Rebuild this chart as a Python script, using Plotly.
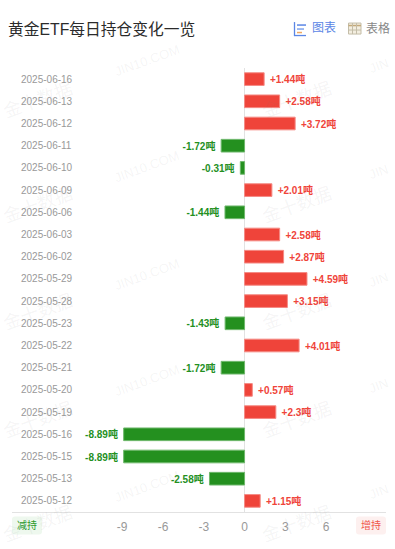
import plotly.graph_objects as go

W, H = 395, 549
L, R, T, B = 12, 386, 68, 512.5  # plot area in window pixels

dates = ["2025-06-16","2025-06-13","2025-06-12","2025-06-11","2025-06-10","2025-06-09","2025-06-06","2025-06-03","2025-06-02","2025-05-29","2025-05-28","2025-05-23","2025-05-22","2025-05-21","2025-05-20","2025-05-19","2025-05-16","2025-05-15","2025-05-13","2025-05-12"]
values = [1.44,2.58,3.72,-1.72,-0.31,2.01,-1.44,2.58,2.87,4.59,3.15,-1.43,4.01,-1.72,0.57,2.3,-8.89,-8.89,-2.58,1.15]
x_ticks = [-9,-6,-3,0,3,6]
RED, GREEN = "#ef443a", "#24901f"
RED_E, GREEN_E = "#f58a84", "#6fb86c"
FONT = "Liberation Sans, Arial, Noto Sans CJK SC, sans-serif"

labels = [f" {v:+g}吨" if v > 0 else f"{v:+g}吨 " for v in values]
colors = [RED if v > 0 else GREEN for v in values]
edges = [RED_E if v > 0 else GREEN_E for v in values]

fig = go.Figure(go.Bar(
    x=values, y=dates, orientation="h", width=0.57,
    marker=dict(color=colors, line=dict(color=edges, width=1)),
    text=labels, textposition="outside", cliponaxis=False,
    textfont=dict(size=10, color=colors, family=FONT, weight="bold"),
    hoverinfo="skip",
))

def px(x): return (x - L) / (R - L)
def py(y): return 1 - (y - T) / (B - T)

ann = []
def note(x, y, t, size=12, color="#333", anchor="left", **kw):
    ann.append(dict(xref="paper", yref="paper", x=px(x), y=py(y), text=t, showarrow=False,
                    xanchor=anchor, yanchor="middle",
                    font=dict(size=size, color=color, family=FONT), **kw))

WM = "rgba(120,120,120,0.075)"
for y in [100, 205, 312, 420, 525]:
    note(38, y, "金十数据", size=18, color=WM, anchor="center", textangle=-20)
    note(297, y, "金十数据", size=18, color=WM, anchor="center", textangle=-20)
for y in [60, 167, 275, 381, 487]:
    note(147, y, "JIN10.COM", size=13, color=WM, anchor="center", textangle=-20)
    note(394, y + 5, "JIN", size=13, color=WM, anchor="right", textangle=-20)

note(6, 29, "黄金ETF每日持仓变化一览", size=15.75, color="#2b2b2b")
note(310, 28, "图表", size=12, color="#5b86e5")
note(364, 28, "表格", size=12, color="#888888")
note(27, 526, "减持", size=10, color="#2c9a2c", anchor="center")
note(371, 526, "增持", size=10, color="#f0564c", anchor="center")

def paper_line(x0, y0, x1, y1, color, width=1):
    return dict(type="line", xref="paper", yref="paper", x0=px(x0), x1=px(x1), y0=py(y0), y1=py(y1),
                line=dict(color=color, width=width))

def pill(x0, y0, x1, y1, fill, r=3):
    p = (f"M {px(x0+r)} {py(y0)} L {px(x1-r)} {py(y0)} Q {px(x1)} {py(y0)} {px(x1)} {py(y0+r)} "
         f"L {px(x1)} {py(y1-r)} Q {px(x1)} {py(y1)} {px(x1-r)} {py(y1)} "
         f"L {px(x0+r)} {py(y1)} Q {px(x0)} {py(y1)} {px(x0)} {py(y1-r)} "
         f"L {px(x0)} {py(y0+r)} Q {px(x0)} {py(y0)} {px(x0+r)} {py(y0)} Z")
    return dict(type="path", xref="paper", yref="paper", path=p, fillcolor=fill, line=dict(width=0), layer="below")

shapes = [
    pill(12, 517, 42, 535, "#eef8ee"),
    pill(356, 517, 386, 535, "#fdf0ef"),
    paper_line(294.5, 22, 294.5, 36, "#5b86e5", 1.3),
    paper_line(294, 35.5, 306, 35.5, "#5b86e5", 1.3),
    paper_line(297, 25, 306, 25, "#5b86e5", 1.5),
    paper_line(297, 29, 304, 29, "#7fa3ee", 1.5),
    paper_line(297, 32.5, 302, 32.5, "#f0a860", 1.5),
    dict(type="rect", xref="paper", yref="paper", x0=px(348.5), x1=px(361), y0=py(23), y1=py(34),
         line=dict(color="#c4bda8", width=1), fillcolor="#f3eee0"),
    paper_line(348.5, 25.5, 361, 25.5, "#c4a97a", 1.5),
    paper_line(352.5, 23, 352.5, 34, "#c4bda8", 1),
    paper_line(356.5, 23, 356.5, 34, "#c4bda8", 1),
    paper_line(348.5, 30, 361, 30, "#c4bda8", 1),
]

fig.update_layout(
    width=W, height=H, autosize=False,
    margin=dict(l=L, r=W - R, t=T, b=H - B),
    paper_bgcolor="white", plot_bgcolor="rgba(0,0,0,0)",
    showlegend=False, annotations=ann, shapes=shapes,
    font=dict(family=FONT),
    xaxis=dict(range=[-17.1, 10.4], tickvals=x_ticks, ticktext=[str(t) for t in x_ticks],
               showgrid=False, zeroline=True, zerolinecolor="#e2e2e2", zerolinewidth=1,
               showline=True, linecolor="#e2e2e2", linewidth=1, ticks="", ticklabelstandoff=4,
               tickfont=dict(size=12, color="#999999"), fixedrange=True),
    yaxis=dict(type="category", categoryorder="array", categoryarray=dates[::-1],
               range=[-0.5, 19.5], showgrid=False, showline=False, ticks="",
               ticklabelposition="inside", ticklabelstandoff=6,
               tickfont=dict(size=10, color="#999999"), fixedrange=True),
)
fig.write_html("out.html", config=dict(displayModeBar=False),
               post_script="document.body.style.margin='0';")
